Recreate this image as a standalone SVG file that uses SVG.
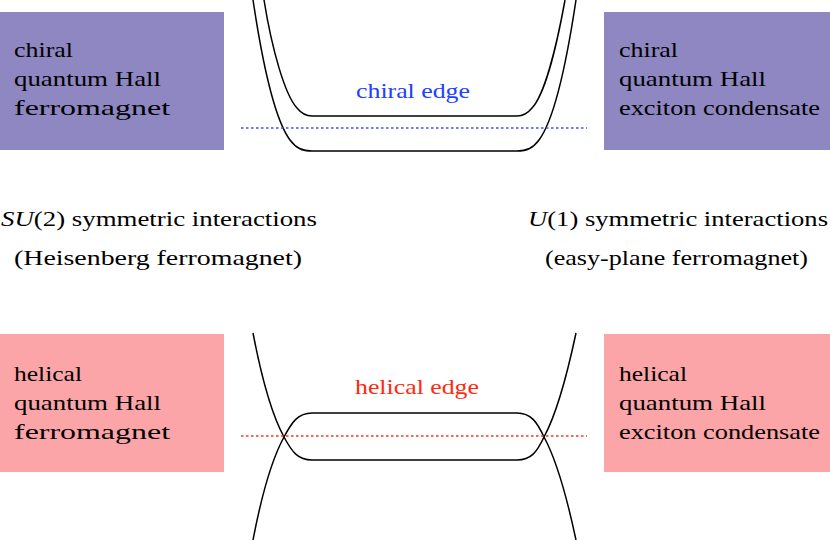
<svg xmlns="http://www.w3.org/2000/svg" width="830" height="540" viewBox="0 0 830 540">
<style>
text{font-family:"Liberation Serif","DejaVu Serif",serif;font-size:22px;fill:#000}
.p{fill:#8E87C2}.k{fill:#FCA5A8}
.c{fill:none;stroke:#000;stroke-width:1.5}
.d{stroke-width:1.5;stroke-dasharray:2.5 2.5}
</style>
<rect width="830" height="540" fill="#fff"/>
<g id="chiral-qhf"><rect class="p" x="0" y="12" width="224" height="138"/><text x="14" y="57" textLength="59" lengthAdjust="spacingAndGlyphs">chiral</text><text x="14" y="86" textLength="147" lengthAdjust="spacingAndGlyphs">quantum Hall</text><text x="14" y="115" textLength="156" lengthAdjust="spacingAndGlyphs">ferromagnet</text></g>
<g id="chiral-qhec"><rect class="p" x="604" y="12" width="226" height="138"/><text x="619" y="57" textLength="59" lengthAdjust="spacingAndGlyphs">chiral</text><text x="619" y="86" textLength="147" lengthAdjust="spacingAndGlyphs">quantum Hall</text><text x="619" y="115" textLength="201" lengthAdjust="spacingAndGlyphs">exciton condensate</text></g>
<g id="helical-qhf"><rect class="k" x="0" y="334" width="224" height="138"/><text x="14" y="381" textLength="68" lengthAdjust="spacingAndGlyphs">helical</text><text x="14" y="410" textLength="147" lengthAdjust="spacingAndGlyphs">quantum Hall</text><text x="14" y="439" textLength="156" lengthAdjust="spacingAndGlyphs">ferromagnet</text></g>
<g id="helical-qhec"><rect class="k" x="604" y="334" width="226" height="138"/><text x="619" y="381" textLength="68" lengthAdjust="spacingAndGlyphs">helical</text><text x="619" y="410" textLength="147" lengthAdjust="spacingAndGlyphs">quantum Hall</text><text x="619" y="439" textLength="201" lengthAdjust="spacingAndGlyphs">exciton condensate</text></g>
<g id="su2"><text x="1" y="226" textLength="316" lengthAdjust="spacingAndGlyphs"><tspan font-style="italic">SU</tspan>(2) symmetric interactions</text><text x="14" y="265" textLength="288" lengthAdjust="spacingAndGlyphs">(Heisenberg ferromagnet)</text></g>
<g id="u1"><text x="528" y="226" textLength="300" lengthAdjust="spacingAndGlyphs"><tspan font-style="italic">U</tspan>(1) symmetric interactions</text><text x="545" y="265" textLength="263" lengthAdjust="spacingAndGlyphs">(easy-plane ferromagnet)</text></g>
<g id="connectors">
<path class="c" d="M253,0 C262,60 275,120 290,140 C296,148 302,151 312,151 L517,151 C527,151 533,148 539,140 C554,120 567,60 576,0"/>
<path class="c" d="M264,0 C272,50 285,95 297,108 C301,113 305,116 312,116 L517,116 C524,116 528,113 532,108 C544,95 556,50 565,0"/>
<line class="d" x1="241" y1="128" x2="587" y2="128" stroke="#3355FF"/>
<text x="356" y="98" textLength="114" lengthAdjust="spacingAndGlyphs" style="fill:#2040FF">chiral edge</text>
<path class="c" d="M253,333 C262,380 272,415 284,437 C292,452 298,460 312,460 L517,460 C531,460 537,452 544,437 C556,415 566,380 576,333"/>
<path class="c" d="M253,540 C262,493 272,459 284,437 C292,422 298,413 312,413 L517,413 C531,413 537,422 544,437 C556,459 566,493 576,540"/>
<line class="d" x1="241" y1="436" x2="587" y2="436" stroke="#FF3322"/>
<text x="355" y="394" textLength="124" lengthAdjust="spacingAndGlyphs" style="fill:#FF2A10">helical edge</text>
</g>
</svg>
